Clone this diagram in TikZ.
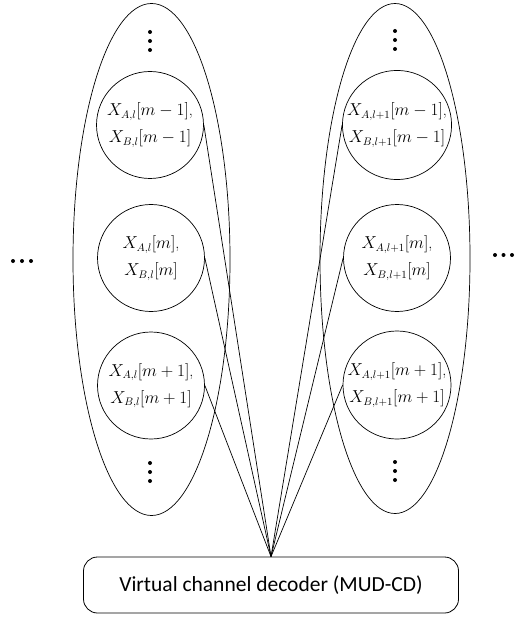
\documentclass[tikz,border=0pt]{standalone}
\usepackage{fontspec}
\newfontfamily\boxfont{Carlito}
\usetikzlibrary{shapes.geometric}
\tikzset{
  group/.style={draw, ellipse, inner sep=0pt, line width=0.7pt},
  sym/.style={draw, circle, minimum size=107pt, inner sep=0pt, align=center, line width=0.7pt,
     font=\fontsize{16}{27}\selectfont},
  link/.style={line width=0.7pt},
  decbox/.style={draw, rounded corners=14pt, minimum width=375pt, minimum height=56pt, inner sep=0pt,
     line width=0.8pt, font=\boxfont\fontsize{21.5}{26}\selectfont},
  dot/.style={fill, circle, inner sep=0pt, minimum size=4pt}
}
\begin{document}
\begin{tikzpicture}[x=1pt,y=-1pt]
\useasboundingbox (0,0) rectangle (514,617);
% groups
\node[group, minimum width=157pt, minimum height=512pt] (gl) at (151.5,259.5) {};
\node[group, minimum width=150pt, minimum height=510pt] (gr) at (395,258.5) {};
% symbol circles
\node[sym] (l1) at (150,125) {$X_{A,l}[m-1]$,\\$X_{B,l}[m-1]$};
\node[sym] (l2) at (151,258) {$X_{A,l}[m]$,\\$X_{B,l}[m]$};
\node[sym] (l3) at (151,385.5) {$X_{A,l}[m+1]$,\\$X_{B,l}[m+1]$};
\node[sym] (r1) at (397,125) {$X_{A,l+1}[m-1]$,\\$X_{B,l+1}[m-1]$};
\node[sym] (r2) at (397,258) {$X_{A,l+1}[m]$,\\$X_{B,l+1}[m]$};
\node[sym] (r3) at (397,385) {$X_{A,l+1}[m+1]$,\\$X_{B,l+1}[m+1]$};
% decoder
\node[decbox] (dec) at (271,585) {Virtual channel decoder (MUD-CD)};
% links
\foreach \n in {l1,l2,l3} \draw[link] (\n.east) -- (dec.north);
\foreach \n in {r1,r2,r3} \draw[link] (\n.west) -- (dec.north);
% vertical dots
\foreach \x/\y in {150/41, 150/472, 395/40, 395/471} {
  \node[dot] (d\x\y a) at (\x,\y-9) {};
  \node[dot] (d\x\y b) at (\x,\y) {};
  \node[dot] (d\x\y c) at (\x,\y+9) {};
}
% horizontal dots
\node[dot] (hl1) at (13,261) {};
\node[dot] (hl2) at (22,261) {};
\node[dot] (hl3) at (31,261) {};
\node[dot] (hr1) at (495,255) {};
\node[dot] (hr2) at (503.5,255) {};
\node[dot] (hr3) at (512,255) {};
\end{tikzpicture}
\end{document}
